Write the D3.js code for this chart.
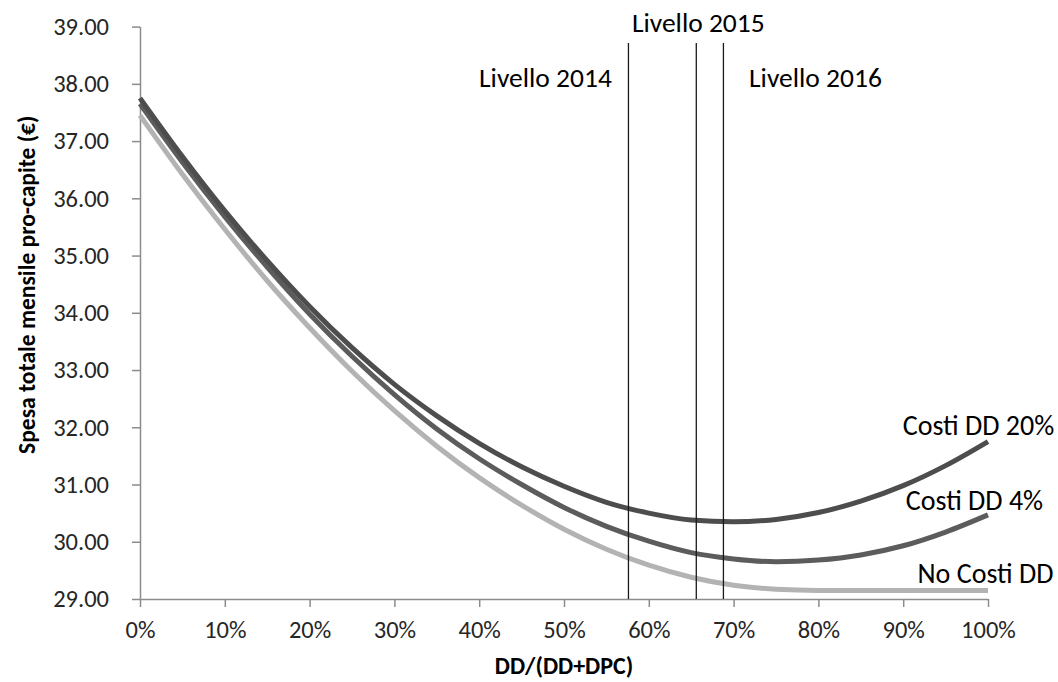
<!DOCTYPE html>
<html>
<head>
<meta charset="utf-8">
<script src="https://cdn.jsdelivr.net/npm/d3@7/dist/d3.min.js"></script>
<style>
  html, body { margin: 0; padding: 0; background: #fff; }
  svg { display: block; }
  text { font-family: Carlito, "Liberation Sans", Arial, sans-serif; }
</style>
</head>
<body>
<svg id="chart" width="1058" height="682"></svg>
<script>
// ---- data ----
const shares = [0, 0.05, 0.10, 0.15, 0.20, 0.25, 0.30, 0.35, 0.40, 0.45, 0.50,
                0.55, 0.60, 0.65, 0.70, 0.75, 0.80, 0.85, 0.90, 0.95, 1.00];
const costi20 = [37.75, 36.73, 35.78, 34.91, 34.11, 33.39, 32.75, 32.20, 31.72, 31.31, 30.97,
                 30.69, 30.50, 30.38, 30.35, 30.39, 30.51, 30.71, 30.98, 31.33, 31.75];
const costi4 = [37.65, 36.63, 35.68, 34.80, 33.98, 33.24, 32.57, 31.97, 31.45, 31.00, 30.60,
                30.27, 30.01, 29.81, 29.70, 29.65, 29.68, 29.77, 29.93, 30.17, 30.47];
const noCosti = [37.45, 36.42, 35.46, 34.56, 33.74, 32.98, 32.29, 31.67, 31.12, 30.64, 30.22,
                 29.87, 29.59, 29.38, 29.24, 29.17, 29.15, 29.15, 29.15, 29.15, 29.15];
const seriesNames = ["No Costi DD", "Costi DD 4%", "Costi DD 20%"];
const levelYears = ["Livello 2014", "Livello 2015", "Livello 2016"];
const levelValues = [0.576, 0.656, 0.688];
const yTicks = [29, 30, 31, 32, 33, 34, 35, 36, 37, 38, 39];
const xTicks = [0, 0.1, 0.2, 0.3, 0.4, 0.5, 0.6, 0.7, 0.8, 0.9, 1.0];
const yTitle = "Spesa totale mensile pro-capite (€)";
const xTitle = "DD/(DD+DPC)";

// ---- layout ----
const svg = d3.select("#chart");
const x = d3.scaleLinear().domain([0, 1]).range([140, 988]);
const y = d3.scaleLinear().domain([29, 39]).range([599, 26.6]);
const axisColor = "#8c8c8c";
const FONT = 'Carlito, "Liberation Sans", Arial, sans-serif';

// y axis
const yAxis = svg.append("g")
  .attr("transform", `translate(${x(0)},0)`)
  .call(d3.axisLeft(y).tickValues(yTicks).tickFormat(d3.format(".2f"))
        .tickSize(8).tickSizeOuter(0).tickPadding(23));
yAxis.select(".domain").attr("stroke", axisColor).attr("stroke-width", 1.5);
yAxis.selectAll(".tick line").attr("stroke", axisColor).attr("stroke-width", 1.5);
yAxis.selectAll(".tick text").attr("fill", "#262626")
  .style("font-size", "24.5px").style("font-family", FONT);

// x axis
const xAxis = svg.append("g")
  .attr("transform", `translate(0,${y(29)})`)
  .call(d3.axisBottom(x).tickValues(xTicks).tickFormat(d3.format(".0%"))
        .tickSize(8).tickSizeOuter(0).tickPadding(14));
xAxis.select(".domain").attr("stroke", axisColor).attr("stroke-width", 1.5);
xAxis.selectAll(".tick line").attr("stroke", axisColor).attr("stroke-width", 1.5);
xAxis.selectAll(".tick text").attr("fill", "#262626")
  .style("font-size", "24.5px").style("font-family", FONT);

// axis titles
svg.append("text")
  .attr("transform", `translate(35,${(y(29) + y(39)) / 2 - 28}) rotate(-90)`)
  .attr("text-anchor", "middle")
  .style("font-size", "23.5px").style("font-weight", "bold").attr("fill", "#000")
  .text(yTitle);
svg.append("text")
  .attr("x", (x(0) + x(1)) / 2).attr("y", 674)
  .attr("text-anchor", "middle")
  .style("font-size", "24px").style("font-weight", "bold").attr("fill", "#000")
  .text(xTitle);

// lines
const seriesData = [noCosti, costi4, costi20];
const seriesColors = ["#b3b3b3", "#5c5c5c", "#4d4d4d"];
const line = d3.line()
  .x((d, i) => x(shares[i]))
  .y(d => y(d))
  .curve(d3.curveMonotoneX);

seriesData.forEach((vals, k) => {
  svg.append("path")
    .datum(vals)
    .attr("d", line)
    .attr("fill", "none")
    .attr("stroke", seriesColors[k])
    .attr("stroke-width", 5)
    .attr("stroke-linecap", "butt");
});

// vertical level lines
svg.selectAll(".level").data(levelValues).enter().append("line")
  .attr("x1", d => x(d)).attr("x2", d => x(d))
  .attr("y1", 43).attr("y2", y(29))
  .attr("stroke", "#1a1a1a").attr("stroke-width", 1.3);

// level labels
const levelLabelPos = [
  { dx: -83, y: 87 },
  { dx: 2, y: 32 },
  { dx: 92, y: 87 }
];
levelYears.forEach((t, i) => {
  svg.append("text")
    .attr("x", x(levelValues[i]) + levelLabelPos[i].dx)
    .attr("y", levelLabelPos[i].y)
    .attr("text-anchor", "middle")
    .style("font-size", "27.5px").attr("fill", "#000")
    .text(t);
});

// series labels
const seriesLabelOffsets = [
  { dx: -2.5, dy: -7 },
  { dx: -13.5, dy: -5 },
  { dx: -9.5, dy: -7 }
];
seriesNames.forEach((t, k) => {
  const vals = seriesData[k];
  svg.append("text")
    .attr("x", x(1) + seriesLabelOffsets[k].dx)
    .attr("y", y(vals[vals.length - 1]) + seriesLabelOffsets[k].dy)
    .attr("text-anchor", "middle")
    .style("font-size", "28px").attr("fill", "#000")
    .text(t);
});
</script>
</body>
</html>
